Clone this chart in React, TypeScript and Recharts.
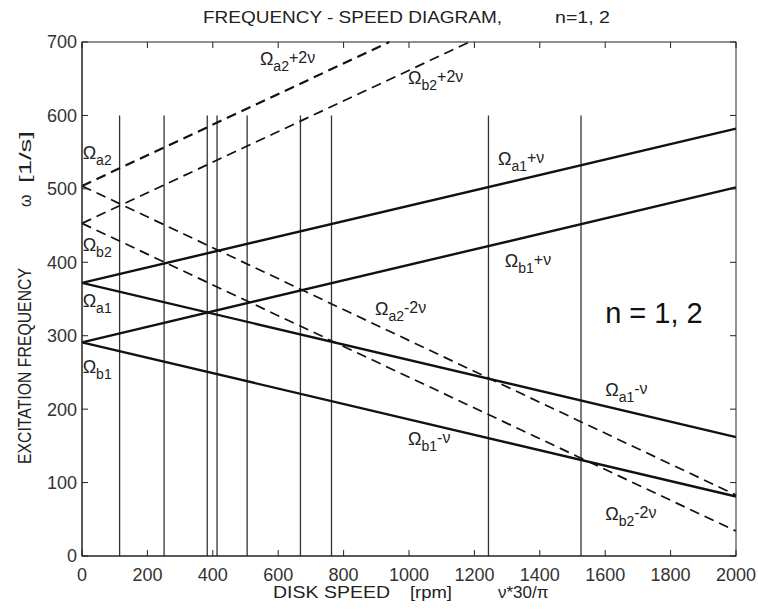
import { LineChart, Line, XAxis, YAxis, ReferenceLine, ReferenceDot } from "recharts";

const speed = [0, 2000];
const a1Plus = [372, 582];
const b1Plus = [291, 502];
const a1Minus = [372, 162];
const b1Minus = [291, 81];
const a2Minus2 = [504, 83];
const b2Minus2 = [453, 34];
// these two leave the frame at the top
const a2Plus2Speed = [0, 940];
const a2Plus2 = [504, 700];
const b2Plus2Speed = [0, 1185];
const b2Plus2 = [453, 700];

const criticalSpeeds = [115, 251, 383, 413, 505, 668, 763, 1243, 1526];
const xTicks = [0, 200, 400, 600, 800, 1000, 1200, 1400, 1600, 1800, 2000];
const yTicks = [0, 100, 200, 300, 400, 500, 600, 700];

const pts = (xs: number[], ys: number[]) => xs.map((x, i) => ({ x, y: ys[i] }));

// label anchors: [sub, rest, x, y]
const labels: [string, string, number, number][] = [
  ["a2", "+2ν", 544, 668],
  ["b2", "+2ν", 997, 643],
  ["a2", "", 2, 541],
  ["b2", "", 2, 415],
  ["a1", "", 2, 339],
  ["b1", "", 2, 249],
  ["a1", "+ν", 1272, 532],
  ["b1", "+ν", 1293, 393],
  ["a2", "-2ν", 896, 328],
  ["a1", "-ν", 1600, 218],
  ["b1", "-ν", 997, 151],
  ["b2", "-2ν", 1600, 49],
];

const FONT = '"Liberation Sans", Arial, sans-serif';
const INK = "#111";

// plot box, fixed by the chart margins and axis sizes below
const W = 758;
const H = 612;
const M = { top: 42, right: 22, bottom: 26, left: 22 };
const Y_AXIS_W = 60;
const X_AXIS_H = 30;
const PLOT_LEFT = M.left + Y_AXIS_W;
const PLOT_TOP = M.top;
const PLOT_RIGHT = W - M.right;
const PLOT_BOTTOM = H - M.bottom - X_AXIS_H;

const OmegaLabel = ({ cx, cy, sub, rest }: any) => (
  <text x={cx} y={cy} fontFamily={FONT} fontSize={18} fill="#222">
    Ω
    <tspan fontSize={14} dy={6}>{sub}</tspan>
    <tspan fontSize={16} dy={-8}>{rest}</tspan>
  </text>
);

const BigLabel = ({ cx, cy }: any) => (
  <text x={cx} y={cy} fontFamily={FONT} fontSize={29} fill="#111">
    n = 1, 2
  </text>
);

// bottom tick label + the matching inward tick on the top side of the box
const XTick = ({ x, y, payload }: any) => (
  <g>
    <text x={x} y={y} dy="0.71em" textAnchor="middle" fontFamily={FONT} fontSize={18} fill="#333">
      {payload.value}
    </text>
    <line x1={x} x2={x} y1={PLOT_TOP} y2={PLOT_TOP + 6} stroke="#222" />
  </g>
);

// left tick label + the matching inward tick on the right side of the box
const YTick = ({ x, y, payload }: any) => (
  <g>
    <text x={x} y={y} dy="0.355em" textAnchor="end" fontFamily={FONT} fontSize={18} fill="#333">
      {payload.value}
    </text>
    <line x1={PLOT_RIGHT - 6} x2={PLOT_RIGHT} y1={y} y2={y} stroke="#222" />
  </g>
);

export default function App() {
  return (
    <div style={{ position: "absolute", left: 0, top: 0, width: W, height: H, background: "#fff" }}>
      <LineChart width={W} height={H} margin={M}>
        <XAxis
          type="number"
          dataKey="x"
          domain={[0, 2000]}
          ticks={xTicks}
          stroke="#222"
          tickSize={-6}
          tickMargin={18}
          height={X_AXIS_H}
          tick={<XTick />}
        />
        <YAxis
          type="number"
          domain={[0, 700]}
          ticks={yTicks}
          stroke="#222"
          tickSize={-6}
          tickMargin={11}
          width={Y_AXIS_W}
          tick={<YTick />}
        />
        {criticalSpeeds.map((s) => (
          <ReferenceLine
            key={s}
            segment={[{ x: s, y: 0 }, { x: s, y: 600 }]}
            stroke="#333"
            strokeWidth={1.3}
          />
        ))}
        <Line data={pts(speed, a1Plus)} dataKey="y" stroke={INK} strokeWidth={2.4} dot={false} isAnimationActive={false} />
        <Line data={pts(speed, b1Plus)} dataKey="y" stroke={INK} strokeWidth={2.4} dot={false} isAnimationActive={false} />
        <Line data={pts(speed, a1Minus)} dataKey="y" stroke={INK} strokeWidth={2.4} dot={false} isAnimationActive={false} />
        <Line data={pts(speed, b1Minus)} dataKey="y" stroke={INK} strokeWidth={2.4} dot={false} isAnimationActive={false} />
        <Line data={pts(a2Plus2Speed, a2Plus2)} dataKey="y" stroke={INK} strokeWidth={2.2} strokeDasharray="10 6" dot={false} isAnimationActive={false} />
        <Line data={pts(b2Plus2Speed, b2Plus2)} dataKey="y" stroke={INK} strokeWidth={1.7} strokeDasharray="10 6" dot={false} isAnimationActive={false} />
        <Line data={pts(speed, a2Minus2)} dataKey="y" stroke={INK} strokeWidth={1.7} strokeDasharray="10 6" dot={false} isAnimationActive={false} />
        <Line data={pts(speed, b2Minus2)} dataKey="y" stroke={INK} strokeWidth={1.7} strokeDasharray="10 6" dot={false} isAnimationActive={false} />
        {labels.map(([sub, rest, x, y], i) => (
          <ReferenceDot
            key={"lab" + i}
            x={x}
            y={y}
            r={1}
            ifOverflow="visible"
            shape={(p: any) => <OmegaLabel {...p} sub={sub} rest={rest} />}
          />
        ))}
        <ReferenceDot x={1600} y={317} r={1} ifOverflow="visible" shape={(p: any) => <BigLabel {...p} />} />
      </LineChart>
      <svg width={W} height={H} style={{ position: "absolute", left: 0, top: 0, pointerEvents: "none" }}>
        <rect
          x={PLOT_LEFT}
          y={PLOT_TOP}
          width={PLOT_RIGHT - PLOT_LEFT}
          height={PLOT_BOTTOM - PLOT_TOP}
          fill="none"
          stroke="#222"
          strokeWidth={1}
        />
        <text x={203} y={23} fontFamily={FONT} fontSize={17} fill="#222" textLength={299} lengthAdjust="spacingAndGlyphs">
          FREQUENCY - SPEED DIAGRAM,
        </text>
        <text x={555} y={23} fontFamily={FONT} fontSize={17} fill="#222" textLength={55} lengthAdjust="spacingAndGlyphs">
          n=1, 2
        </text>
        <text x={273} y={598} fontFamily={FONT} fontSize={17} fill="#222" textLength={117} lengthAdjust="spacingAndGlyphs">
          DISK SPEED
        </text>
        <text x={410} y={598} fontFamily={FONT} fontSize={17} fill="#222" textLength={42} lengthAdjust="spacingAndGlyphs">
          [rpm]
        </text>
        <text x={498} y={598} fontFamily={FONT} fontSize={17} fill="#222">
          ν*30/π
        </text>
        <text
          transform="translate(31,464) rotate(-90)"
          fontFamily={FONT}
          fontSize={18}
          fill="#222"
          textLength={196}
          lengthAdjust="spacingAndGlyphs"
        >
          EXCITATION FREQUENCY
        </text>
        <text transform="translate(31,207) rotate(-90)" fontFamily={FONT} fontSize={16} fill="#222">
          ω
        </text>
        <text
          transform="translate(31,183) rotate(-90)"
          fontFamily={FONT}
          fontSize={17}
          fill="#222"
          textLength={52}
          lengthAdjust="spacingAndGlyphs"
        >
          [1/s]
        </text>
      </svg>
    </div>
  );
}
